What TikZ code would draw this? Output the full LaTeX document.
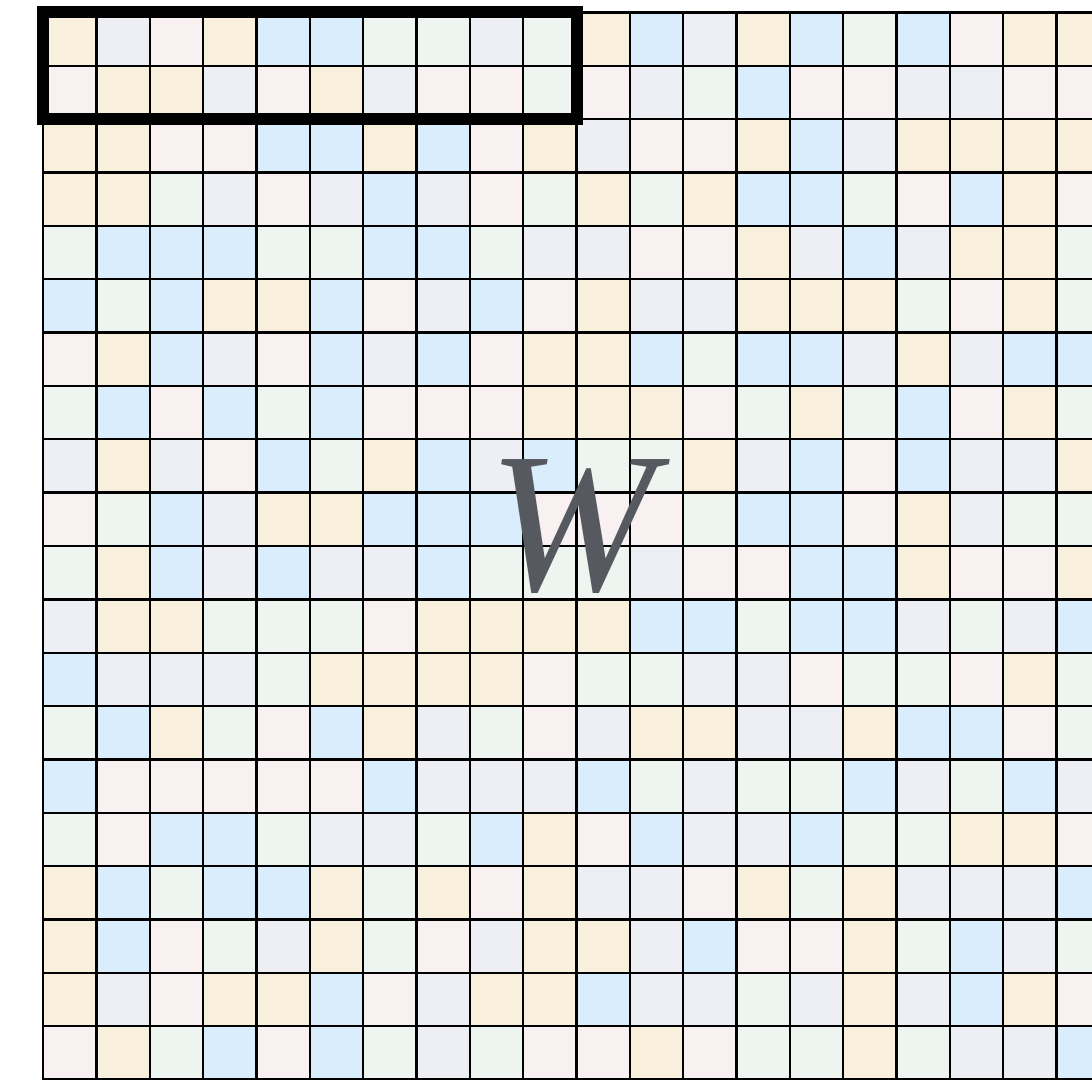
\documentclass[tikz,border=0pt]{standalone}
\usepackage{fontspec}
\newfontfamily\wfont{Liberation Serif}
\definecolor{colY}{HTML}{F8F0DC}
\definecolor{colG}{HTML}{EDEFF4}
\definecolor{colP}{HTML}{F9F0F2}
\definecolor{colB}{HTML}{DAEDFC}
\definecolor{colE}{HTML}{EEF4F0}
\definecolor{wgray}{HTML}{565A60}
\begin{document}
\begin{tikzpicture}[x=0.75pt,y=-0.75pt,
  gridline/.style={line width=1.75pt, black, line cap=rect},
  framebox/.style={line width=9pt, black},
  bigletter/.style={text=wgray, inner sep=0pt, font=\wfont\itshape\fontsize{150}{150}\selectfont}]
\useasboundingbox (0,0) rectangle (1092,1080);
\clip (0,0) rectangle (1092,1080);
\def\xo{43}\def\yo{12.5}\def\cs{53.35}
\foreach \row [count=\r from 0] in {
{Y,G,P,Y,B,B,E,E,G,E,Y,B,G,Y,B,E,B,P,Y,Y},
{P,Y,Y,G,P,Y,G,P,P,E,P,G,E,B,P,P,G,G,P,P},
{Y,Y,P,P,B,B,Y,B,P,Y,G,P,P,Y,B,G,Y,Y,Y,Y},
{Y,Y,E,G,P,G,B,G,P,E,Y,E,Y,B,B,E,P,B,Y,P},
{E,B,B,B,E,E,B,B,E,G,G,P,P,Y,G,B,G,Y,Y,E},
{B,E,B,Y,Y,B,P,G,B,P,Y,G,G,Y,Y,Y,E,P,Y,E},
{P,Y,B,G,P,B,G,B,P,Y,Y,B,E,B,B,G,Y,G,B,B},
{E,B,P,B,E,B,P,P,P,Y,Y,Y,P,E,Y,E,B,P,Y,E},
{G,Y,G,P,B,E,Y,B,G,B,E,E,Y,G,B,P,B,G,G,Y},
{P,E,B,G,Y,Y,B,B,B,P,P,P,E,B,B,P,Y,G,E,E},
{E,Y,B,G,B,G,G,B,E,E,E,G,P,P,B,B,Y,P,P,Y},
{G,Y,Y,E,E,E,P,Y,Y,Y,Y,B,B,E,B,B,G,E,G,B},
{B,G,G,G,E,Y,Y,Y,Y,P,E,E,G,G,P,E,E,P,Y,E},
{E,B,Y,E,P,B,Y,G,E,P,G,Y,Y,G,G,Y,B,B,P,E},
{B,P,P,P,P,P,B,G,G,G,B,E,G,E,E,B,G,E,B,G},
{E,P,B,B,E,G,G,E,B,Y,P,B,G,G,B,E,E,Y,Y,P},
{Y,B,E,B,B,Y,E,Y,P,Y,G,G,P,Y,E,Y,G,G,G,B},
{Y,B,P,E,G,Y,E,P,G,Y,Y,G,B,P,P,Y,E,B,G,E},
{Y,G,P,Y,Y,B,P,G,Y,Y,B,G,G,E,G,Y,G,B,Y,P},
{P,Y,E,B,P,B,E,G,E,P,P,Y,P,E,E,Y,E,G,G,B}} {
  \foreach \c [count=\k from 0] in \row {
    \fill[fill=col\c] ({\xo+\k*\cs},{\yo+\r*\cs}) rectangle ++(\cs,\cs);
  }
}
\foreach \k in {0,...,20} {
  \draw[gridline] ({\xo+\k*\cs},\yo) -- ++(0,{20*\cs});
  \draw[gridline] (\xo,{\yo+\k*\cs}) -- ++({20*\cs},0);
}
\draw[framebox] (\xo,\yo) rectangle ++({10*\cs},{2*\cs});
\node[bigletter] (w) at (572,527) {W};
\end{tikzpicture}
\end{document}
